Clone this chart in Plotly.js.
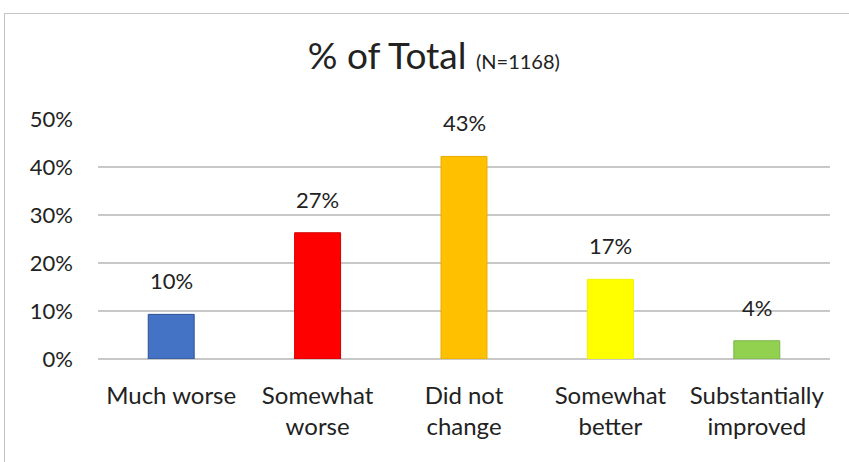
<!DOCTYPE html>
<html>
<head>
<meta charset="utf-8">
<script src="https://cdn.plot.ly/plotly-3.0.1.min.js"></script>
<style>
  html, body { margin:0; padding:0; background:#ffffff; }
  #frame { position:absolute; left:4px; top:13px; width:900px; height:500px;
           border-left:1px solid #c4c4c4; border-top:1px solid #c4c4c4; }
  #chart { position:absolute; left:0; top:0; width:849px; height:462px; }
</style>
</head>
<body>
<div id="frame"></div>
<div id="chart"></div>
<script>
const categories = ["Much worse", "Somewhat<br>worse", "Did not<br>change", "Somewhat<br>better", "Substantially<br>improved"];
const values = [9.3, 26.3, 42.2, 16.6, 3.8];
const labels = ["10%", "27%", "43%", "17%", "4%"];
const barColors = ["#4472C4", "#FF0000", "#FFC000", "#FFFF00", "#92D050"];
const borderColors = ["#2F528F", "#D00000", "#E6AC00", "#F2F200", "#7AB648"];
const yTickVals = [0, 10, 20, 30, 40, 50];
const yTickText = ["0%", "10%", "20%", "30%", "40%", "50%"];

const font = "Lato, 'Open Sans', sans-serif";
const textColor = "#222222";

const trace = {
  type: "bar",
  x: categories,
  y: values,
  marker: { color: barColors, line: { color: borderColors, width: 1 } },
  hoverinfo: "none"
};

const annotations = categories.map((c, i) => ({
  x: c, y: values[i], xref: "x", yref: "y",
  text: labels[i], showarrow: false, yanchor: "bottom", yshift: 18,
  font: { family: font, size: 22, color: textColor }
}));

const layout = {
  width: 849, height: 462,
  margin: { l: 98, r: 19, t: 119, b: 103 },
  paper_bgcolor: "rgba(0,0,0,0)",
  plot_bgcolor: "rgba(0,0,0,0)",
  showlegend: false,
  bargap: 0.686,
  title: {
    text: "% of Total <span style=\"font-size:20px\">(N=1168)</span>",
    font: { family: font, size: 37, color: textColor },
    xref: "container", x: 0.511, xanchor: "center",
    yref: "container", y: 1 - 56/462, yanchor: "middle"
  },
  xaxis: {
    tickfont: { family: font, size: 24, color: textColor },
    ticks: "", showline: false, showgrid: false, zeroline: false,
    ticklabelstandoff: 20, fixedrange: true
  },
  yaxis: {
    range: [0, 50],
    tickvals: yTickVals, ticktext: yTickText,
    tickfont: { family: font, size: 22, color: textColor },
    ticks: "", showline: false,
    showgrid: true, gridcolor: "#c8c8c8", gridwidth: 2,
    zeroline: true, zerolinecolor: "#c8c8c8", zerolinewidth: 2,
    ticklabelstandoff: 24, fixedrange: true
  },
  annotations: annotations
};

Plotly.newPlot("chart", [trace], layout, { displayModeBar: false, staticPlot: true });
</script>
</body>
</html>
